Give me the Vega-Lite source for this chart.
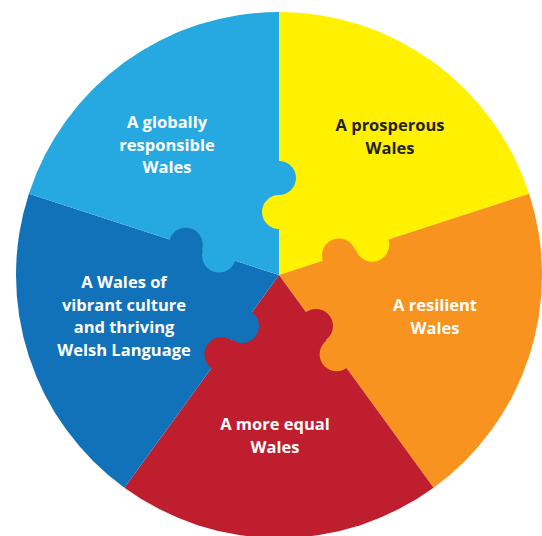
{
  "$schema": "https://vega.github.io/schema/vega-lite/v6.json",
  "width": 526,
  "height": 522,
  "autosize": "none",
  "padding": {"left": 16, "top": 14, "right": 0, "bottom": 0},
  "background": "white",
  "config": {"view": {"stroke": null}},
  "datasets": {
    "slices": [
      {"piece": "prosperous", "order": 1, "value": 1},
      {"piece": "resilient", "order": 2, "value": 1},
      {"piece": "equal", "order": 3, "value": 1},
      {"piece": "culture", "order": 4, "value": 1},
      {"piece": "global", "order": 5, "value": 1}
    ],
    "knobs": [
      {"piece": "prosperous", "x": 0, "y": 63},
      {"piece": "global", "x": 0, "y": 97},
      {"piece": "resilient", "x": 60, "y": 19.5},
      {"piece": "prosperous", "x": 93.2, "y": 30.3},
      {"piece": "equal", "x": 37, "y": -51},
      {"piece": "resilient", "x": 57.6, "y": -79.3},
      {"piece": "culture", "x": -37, "y": -51},
      {"piece": "equal", "x": -57.6, "y": -79.3},
      {"piece": "global", "x": -60, "y": 19.5},
      {"piece": "culture", "x": -93.2, "y": 30.3}
    ],
    "labels": [
      {"piece": "prosperous", "label": "A prosperous\nWales", "x": 111, "y": 149},
      {"piece": "resilient", "label": "A resilient\nWales", "x": 156, "y": -31},
      {"piece": "equal", "label": "A more equal\nWales", "x": -4, "y": -150},
      {"piece": "culture", "label": "A Wales of\nvibrant culture\nand thriving\nWelsh Language", "x": -155, "y": -8},
      {"piece": "global", "label": "A globally\nresponsible\nWales", "x": -112, "y": 152}
    ]
  },
  "layer": [
    {
      "data": {"name": "slices"},
      "mark": {"type": "arc", "outerRadius": 263},
      "encoding": {
        "theta": {"field": "value", "type": "quantitative", "stack": true},
        "order": {"field": "order", "type": "quantitative"},
        "color": {
          "field": "piece",
          "type": "nominal",
          "scale": {
            "domain": ["prosperous", "resilient", "equal", "culture", "global"],
            "range": ["#FFF100", "#F7931E", "#BE1E2D", "#1172BA", "#26A9E0"]
          },
          "legend": null
        }
      }
    },
    {
      "data": {"name": "knobs"},
      "mark": {"type": "point", "shape": "circle", "filled": true, "opacity": 1, "size": 1156, "strokeWidth": 0},
      "encoding": {
        "x": {"field": "x", "type": "quantitative", "scale": {"domain": [-263, 263], "nice": false, "zero": false}, "axis": null},
        "y": {"field": "y", "type": "quantitative", "scale": {"domain": [-261, 261], "nice": false, "zero": false}, "axis": null},
        "color": {"field": "piece", "type": "nominal", "legend": null}
      }
    },
    {
      "data": {"name": "labels"},
      "mark": {
        "type": "text",
        "lineBreak": "\n",
        "font": "Open Sans",
        "fontWeight": "bold",
        "fontSize": 16.5,
        "lineHeight": 22.5,
        "align": "center",
        "baseline": "middle"
      },
      "encoding": {
        "x": {"field": "x", "type": "quantitative", "scale": {"domain": [-263, 263], "nice": false, "zero": false}, "axis": null},
        "y": {"field": "y", "type": "quantitative", "scale": {"domain": [-261, 261], "nice": false, "zero": false}, "axis": null},
        "text": {"field": "label"},
        "color": {
          "condition": {"test": "datum.piece === 'prosperous'", "value": "#231F20"},
          "value": "#FFFFFF"
        }
      }
    }
  ]
}
